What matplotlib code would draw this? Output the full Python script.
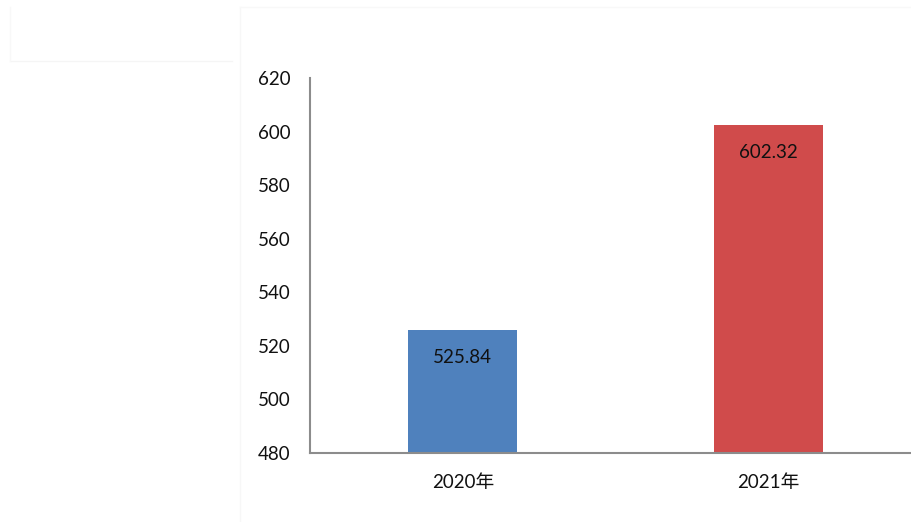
import matplotlib
matplotlib.use("Agg")
import matplotlib.pyplot as plt
from matplotlib.lines import Line2D

categories = ["2020年", "2021年"]
values = [525.84, 602.32]
colors = ["#4F81BD", "#D04B4B"]
yticks = [480, 500, 520, 540, 560, 580, 600, 620]

plt.rcParams['font.family'] = ['Lato', 'Noto Sans CJK SC', 'DejaVu Sans']

fig = plt.figure(figsize=(9.12, 5.22), dpi=100)
ax = fig.add_axes([310/912, 69/522, 611/912, 375/522])

x = list(range(len(categories)))
bars = ax.bar(x, values, width=0.357, color=colors, zorder=2)
ax.set_xlim(-0.5, 1.5)
ax.set_ylim(480, 620)
ax.set_yticks(yticks)
ax.set_xticks(x)
ax.set_xticklabels(categories)
ax.tick_params(axis='both', length=0, labelsize=13.5, colors='#111111')
ax.tick_params(axis='y', pad=14)
ax.tick_params(axis='x', pad=15)
for s in ['top', 'right']:
    ax.spines[s].set_visible(False)
for s in ['left', 'bottom']:
    ax.spines[s].set_color('#8c8c8c')
    ax.spines[s].set_linewidth(1.5)

for b, v in zip(bars, values):
    ax.annotate(f"{v:.2f}", (b.get_x() + b.get_width()/2, v), xytext=(0, -19.5),
                textcoords='offset points', ha='center', va='center',
                fontsize=13.5, color='#111111')

# faint frame artifacts
fig.add_artist(Line2D([240/912, 240/912], [0, 515/522], color='#f7f7f7', lw=1))
fig.add_artist(Line2D([240/912, 1], [515/522, 515/522], color='#f8f8f8', lw=1))
fig.add_artist(Line2D([10/912, 232/912], [461/522, 461/522], color='#f5f5f5', lw=1))
fig.add_artist(Line2D([10/912, 10/912], [461/522, 515/522], color='#f8f8f8', lw=1))

fig.savefig("out.png", dpi=100)
